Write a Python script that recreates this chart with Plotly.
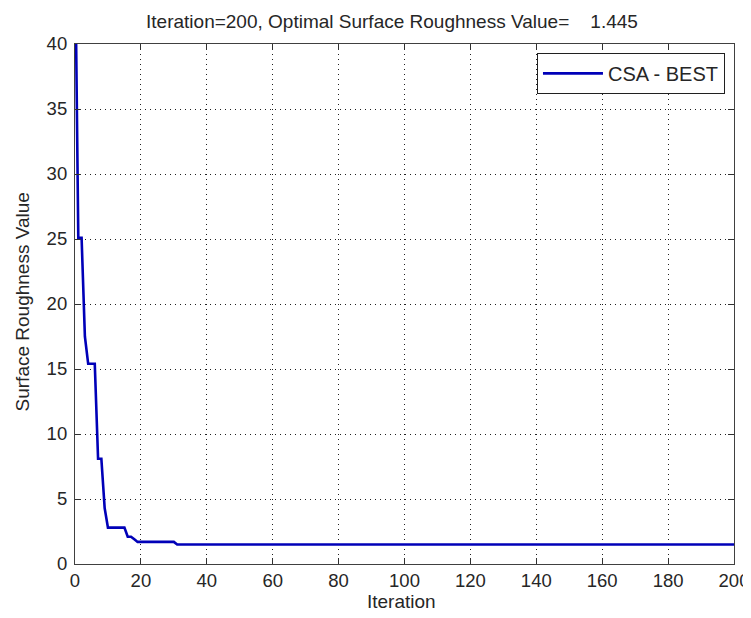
import plotly.graph_objects as go

iterations = list(range(0, 201))
early_values = [48.0, 25.1, 25.1, 17.5, 15.4, 15.4, 15.4, 8.1, 8.1, 4.3,
                2.8, 2.8, 2.8, 2.8, 2.8, 2.8, 2.1, 2.1, 1.9, 1.7,
                1.7, 1.7, 1.7, 1.7, 1.7, 1.7, 1.7, 1.7, 1.7, 1.7, 1.7]
late_value = 1.5
values = early_values + [late_value] * (len(iterations) - len(early_values))

x_ticks = [0, 20, 40, 60, 80, 100, 120, 140, 160, 180, 200]
y_ticks = [0, 5, 10, 15, 20, 25, 30, 35, 40]

title_text = "Iteration=200, Optimal Surface Roughness Value=    1.445"
x_label = "Iteration"
y_label = "Surface Roughness Value"

font_family = "Liberation Sans, Arial"
ink = "#262626"

# the page body adds an 8px offset, so the figure is sized to fit the window
fig_w, fig_h = 743, 610

fig = go.Figure()
fig.add_trace(go.Scatter(x=iterations, y=values, mode="lines", name="CSA - BEST",
                         line=dict(color="#0000B8", width=2.6)))

axis_common = dict(showline=True, linecolor="#404040", linewidth=1.2, mirror="ticks",
                   ticks="inside", ticklen=6, tickcolor="#303030", showgrid=True,
                   gridcolor="#202020", griddash="1px,4px", gridwidth=1, zeroline=False,
                   automargin=False,
                   tickfont=dict(size=18.5, color=ink, family=font_family))

fig.update_layout(
    width=fig_w, height=fig_h,
    margin=dict(l=67, r=17, t=36, b=54),
    paper_bgcolor="white", plot_bgcolor="white",
    title=dict(text=title_text, x=0.5168, xanchor="center", xref="container",
               y=0.9787, yanchor="middle", yref="container",
               font=dict(size=19, color=ink, family=font_family)),
    xaxis=dict(range=[0, 200], tickvals=x_ticks, ticklabelstandoff=0, **axis_common),
    yaxis=dict(range=[0, 40], tickvals=y_ticks, ticklabelstandoff=3, **axis_common),
    legend=dict(x=0.9863, y=0.983, xanchor="right", yanchor="top",
                bgcolor="white", bordercolor="#202020", borderwidth=1,
                font=dict(size=20, color=ink, family=font_family),
                itemwidth=60),
    showlegend=True,
    annotations=[
        dict(text=x_label, xref="paper", yref="paper", x=0.4947, y=-0.073,
             xanchor="center", yanchor="middle", showarrow=False,
             font=dict(size=19, color=ink, family=font_family)),
        dict(text=y_label, xref="paper", yref="paper", x=-0.0804, y=0.503,
             xanchor="center", yanchor="middle", showarrow=False, textangle=-90,
             font=dict(size=19, color=ink, family=font_family)),
    ],
)

fig.write_html("out.html")
